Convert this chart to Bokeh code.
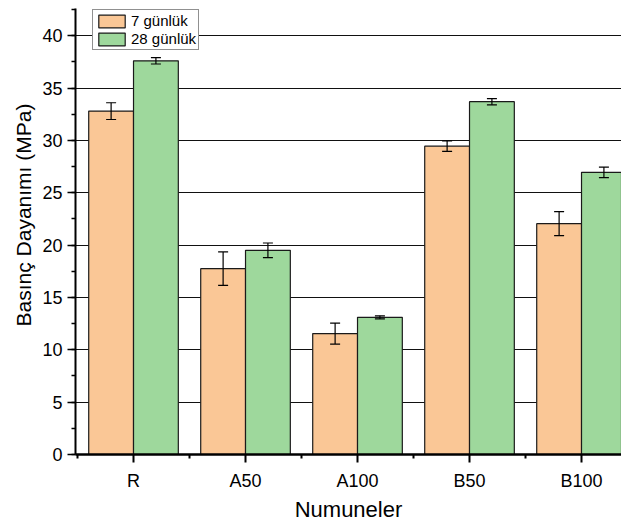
import numpy as np
from bokeh.plotting import figure
from bokeh.models import (ColumnDataSource, Range1d, FixedTicker, SingleIntervalTicker,
                          Whisker, TeeHead, Legend, LegendItem, Title)
from bokeh.embed import file_html
from bokeh.resources import INLINE

categories = ["R", "A50", "A100", "B50", "B100"]
series_names = ["7 günlük", "28 günlük"]
day7 = [32.8, 17.75, 11.55, 29.45, 22.05]
day7_err = [0.8, 1.6, 1.0, 0.5, 1.15]
day28 = [37.6, 19.5, 13.1, 33.7, 26.95]
day28_err = [0.3, 0.7, 0.15, 0.3, 0.5]
y_ticks = [0, 5, 10, 15, 20, 25, 30, 35, 40]

FONT = "Liberation Sans"
ORANGE = "#FAC796"
GREEN = "#9ED89C"

xpos = np.arange(1, len(categories) + 1, dtype=float)
off = 0.2
src = ColumnDataSource(dict(
    x7=xpos - off, x28=xpos + off,
    y7=day7, y28=day28,
    u7=np.array(day7) + np.array(day7_err), l7=np.array(day7) - np.array(day7_err),
    u28=np.array(day28) + np.array(day28_err), l28=np.array(day28) - np.array(day28_err),
))

p = figure(width=621, height=524,
           x_range=Range1d(0.482, 5.357), y_range=Range1d(0, 42.6),
           output_backend="svg", toolbar_location=None,
           min_border_left=75, min_border_right=0, min_border_top=8, min_border_bottom=70)
p.outline_line_color = None
p.background_fill_color = "white"
p.border_fill_color = "white"

r7 = p.vbar(x="x7", top="y7", width=0.4, source=src, fill_color=ORANGE,
            line_color="#1a1a1a", line_width=1.2)
r28 = p.vbar(x="x28", top="y28", width=0.4, source=src, fill_color=GREEN,
             line_color="#1a1a1a", line_width=1.2)

for b, u, l in (("x7", "u7", "l7"), ("x28", "u28", "l28")):
    w = Whisker(base=b, upper=u, lower=l, source=src, line_color="black", line_width=1.2,
                level="overlay",
                upper_head=TeeHead(size=10, line_color="black", line_width=1.2),
                lower_head=TeeHead(size=10, line_color="black", line_width=1.2))
    p.add_layout(w)

# grid
p.xgrid.visible = False
p.ygrid.ticker = FixedTicker(ticks=y_ticks[1:])
p.ygrid.grid_line_color = "#111111"
p.ygrid.grid_line_width = 1.2

# y axis
p.yaxis.ticker = SingleIntervalTicker(interval=5, num_minor_ticks=2)
p.yaxis.axis_line_width = 2
p.yaxis.major_tick_out = 8
p.yaxis.major_tick_in = 0
p.yaxis.minor_tick_out = 4
p.yaxis.minor_tick_in = 0
p.yaxis.major_tick_line_width = 1.5
p.yaxis.minor_tick_line_width = 1.5
p.yaxis.major_label_text_font = FONT
p.yaxis.major_label_text_font_size = "18px"
p.yaxis.major_label_text_color = "black"
p.yaxis.major_label_standoff = 5

ylab = Title(text="Basınç Dayanımı (MPa)", align="left", offset=128,
             text_font=FONT, text_font_size="21px", text_font_style="normal",
             text_color="black", standoff=9)
p.add_layout(ylab, "left")

# x axis
p.xaxis.ticker = FixedTicker(ticks=list(xpos),
                             minor_ticks=list(xpos - 0.5) + [xpos[-1] + 0.5])
p.xaxis.major_label_overrides = {int(i): c for i, c in zip(xpos, categories)}
p.xaxis.axis_label = "Numuneler"
p.xaxis.axis_line_width = 2.5
p.xaxis.major_tick_out = 8
p.xaxis.major_tick_in = 0
p.xaxis.minor_tick_out = 4
p.xaxis.minor_tick_in = 0
p.xaxis.major_tick_line_width = 2
p.xaxis.minor_tick_line_width = 2
p.xaxis.major_label_text_font = FONT
p.xaxis.major_label_text_font_size = "18px"
p.xaxis.major_label_text_color = "black"
p.xaxis.major_label_standoff = 8
p.xaxis.axis_label_text_font = FONT
p.xaxis.axis_label_text_font_size = "22px"
p.xaxis.axis_label_text_font_style = "normal"
p.xaxis.axis_label_text_color = "black"
p.xaxis.axis_label_standoff = 3

legend = Legend(items=[LegendItem(label=series_names[0], renderers=[r7]),
                       LegendItem(label=series_names[1], renderers=[r28])],
                location=(17, 404))
legend.label_text_font = FONT
legend.label_text_font_size = "15px"
legend.label_text_color = "black"
legend.glyph_width = 33
legend.glyph_height = 16
legend.label_height = 16
legend.label_standoff = 3
legend.spacing = 1
legend.padding = 2
legend.margin = 0
legend.border_line_color = "#222222"
legend.border_line_width = 1.2
legend.background_fill_color = "white"
legend.background_fill_alpha = 1.0
p.add_layout(legend)

open("out.html", "w").write(file_html(p, INLINE))
